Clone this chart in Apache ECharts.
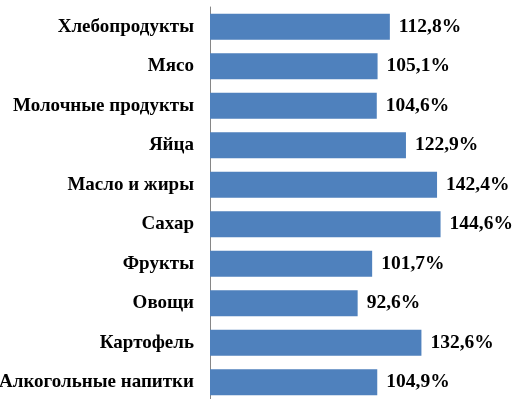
<!DOCTYPE html>
<html>
<head>
<meta charset="utf-8">
<script src="https://cdn.jsdelivr.net/npm/echarts@6/dist/echarts.min.js"></script>
<style>
  html, body { margin: 0; padding: 0; background: #fff; }
  #chart { width: 518px; height: 399px; }
</style>
</head>
<body>
<div id="chart"></div>
<script>
// категории сверху вниз
var categories = ['Хлебопродукты', 'Мясо', 'Молочные продукты', 'Яйца', 'Масло и жиры',
  'Сахар', 'Фрукты', 'Овощи', 'Картофель', 'Алкогольные напитки'];
var values = [112.8, 105.1, 104.6, 122.9, 142.4, 144.6, 101.7, 92.6, 132.6, 104.9];

var chart = echarts.init(document.getElementById('chart'));

var option = {
  animation: false,
  grid: {
    left: 210,
    right: 21,
    top: 7,
    height: 395,
    containLabel: false,
    outerBoundsMode: 'none'
  },
  xAxis: {
    type: 'value',
    min: 0,
    max: 180,
    show: false
  },
  yAxis: {
    type: 'category',
    inverse: true,
    data: categories,
    axisLine: { show: true, lineStyle: { color: '#868686', width: 1 } },
    axisTick: { show: false },
    axisLabel: {
      margin: 16,
      color: '#000',
      fontFamily: 'Liberation Serif',
      fontWeight: 'bold',
      fontSize: 19
    }
  },
  series: [{
    type: 'bar',
    data: values,
    barWidth: 26,
    itemStyle: { color: '#4f81bd' },
    label: {
      show: true,
      position: 'right',
      distance: 9,
      color: '#000',
      fontFamily: 'Liberation Serif',
      fontWeight: 'bold',
      fontSize: 19.5,
      formatter: function (p) {
        return p.value.toFixed(1).replace('.', ',') + '%';
      }
    }
  }]
};

chart.setOption(option);
</script>
</body>
</html>
